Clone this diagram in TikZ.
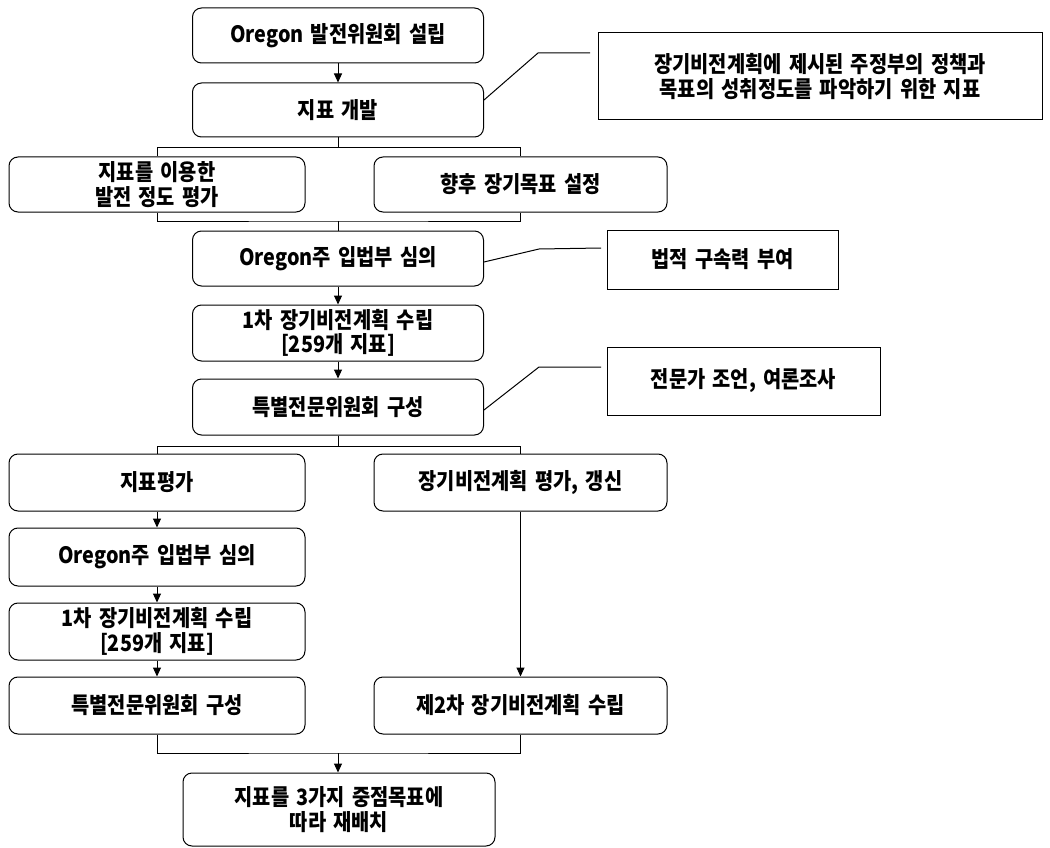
\documentclass[tikz,border=0pt]{standalone}
\usepackage{fontspec}
\setmainfont{Noto Sans CJK KR}[FakeStretch=0.88,WordSpace=1.6]
\usetikzlibrary{arrows.meta}
\begin{document}
\begin{tikzpicture}[x=1pt,y=-1pt,
  txt/.style={font=\fontsize{22.5}{24.5}\selectfont\bfseries},
  rbox/.style={draw,line width=1pt,rounded corners=9pt,inner sep=0pt,align=center,txt},
  nbox/.style={draw,line width=1pt,inner sep=0pt,align=center,txt},
  conn/.style={line width=1pt},
  arr/.style={conn,-{Triangle[length=9pt,width=8pt]}}]
\useasboundingbox (0,0) rectangle (1050,848);
% main column
\node[rbox,minimum width=291pt,minimum height=55pt] (a) at (338,35.5) {Oregon 발전위원회 설립};
\node[rbox,minimum width=291pt,minimum height=54pt] (b) at (338,110) {지표 개발};
\node[rbox,minimum width=296pt,minimum height=55pt] (l1) at (157,184.5) {지표를 이용한\\발전 정도 평가};
\node[rbox,minimum width=293pt,minimum height=55pt] (r1) at (520.5,184.5) {향후 장기목표 설정};
\node[rbox,minimum width=291pt,minimum height=55pt] (m1) at (338,258.5) {Oregon주 입법부 심의};
\node[rbox,minimum width=291pt,minimum height=56pt] (m2) at (338,333) {1차 장기비전계획 수립\\{[}259개 지표]};
\node[rbox,minimum width=291pt,minimum height=56pt] (m3) at (338,407) {특별전문위원회 구성};
% lower columns
\node[rbox,minimum width=296pt,minimum height=57pt] (ll1) at (157,482.5) {지표평가};
\node[rbox,minimum width=296pt,minimum height=58pt] (ll2) at (157,557) {Oregon주 입법부 심의};
\node[rbox,minimum width=296pt,minimum height=57pt] (ll3) at (157,631.5) {1차 장기비전계획 수립\\{[}259개 지표]};
\node[rbox,minimum width=296pt,minimum height=57pt] (ll4) at (157,705.5) {특별전문위원회 구성};
\node[rbox,minimum width=293pt,minimum height=57pt] (rr1) at (520.5,482.5) {장기비전계획 평가, 갱신};
\node[rbox,minimum width=293pt,minimum height=57pt] (rr2) at (520.5,705.5) {제2차 장기비전계획 수립};
\node[rbox,minimum width=312pt,minimum height=73pt] (last) at (339,809.5) {지표를 3가지 중점목표에\\따라 재배치};
% notes
\node[nbox,minimum width=444pt,minimum height=87pt] (n1) at (820,76.5) {장기비전계획에 제시된 주정부의 정책과\\목표의 성취정도를 파악하기 위한 지표};
\node[nbox,minimum width=231pt,minimum height=59pt] (n2) at (722.5,259.5) {법적 구속력 부여};
\node[nbox,minimum width=273pt,minimum height=68pt] (n3) at (743.5,381) {전문가 조언, 여론조사};
% junctions
\coordinate (j1) at (338,148);
\coordinate (j2) at (338,221);
\coordinate (j3) at (338,446);
\coordinate (j4) at (338,753);
% connectors
\draw[arr] (a) -- (b);
\draw[conn] (b.south) -- (j1);
\draw[conn] (j1) -| (l1.north);
\draw[conn] (j1) -| (r1.north);
\draw[conn] (l1.south) |- (j2) -| (r1.south);
\draw[conn] (j2) -- (m1.north);
\draw[arr] (m1) -- (m2);
\draw[arr] (m2) -- (m3);
\draw[conn] (m3.south) -- (j3);
\draw[conn] (j3) -| (ll1.north);
\draw[conn] (j3) -| (rr1.north);
\draw[arr] (ll1) -- (ll2);
\draw[arr] (ll2) -- (ll3);
\draw[arr] (ll3) -- (ll4);
\draw[arr] (rr1) -- (rr2);
\draw[conn] (ll4.south) |- (j4) -| (rr2.south);
\draw[arr] (j4) -- (j4 |- last.north);
% note connectors
\coordinate (k1) at (538,53);
\coordinate (e1) at (590,53);
\draw[conn] (b.east |- 0,100) -- (k1) -- (e1);
\coordinate (k2) at (539,249);
\coordinate (e2) at (601,248);
\draw[conn] (m1.east |- 0,262) -- (k2) -- (e2);
\coordinate (k3) at (539,367);
\coordinate (e3) at (601,367);
\draw[conn] (m3.east |- 0,410) -- (k3) -- (e3);
\end{tikzpicture}
\end{document}
